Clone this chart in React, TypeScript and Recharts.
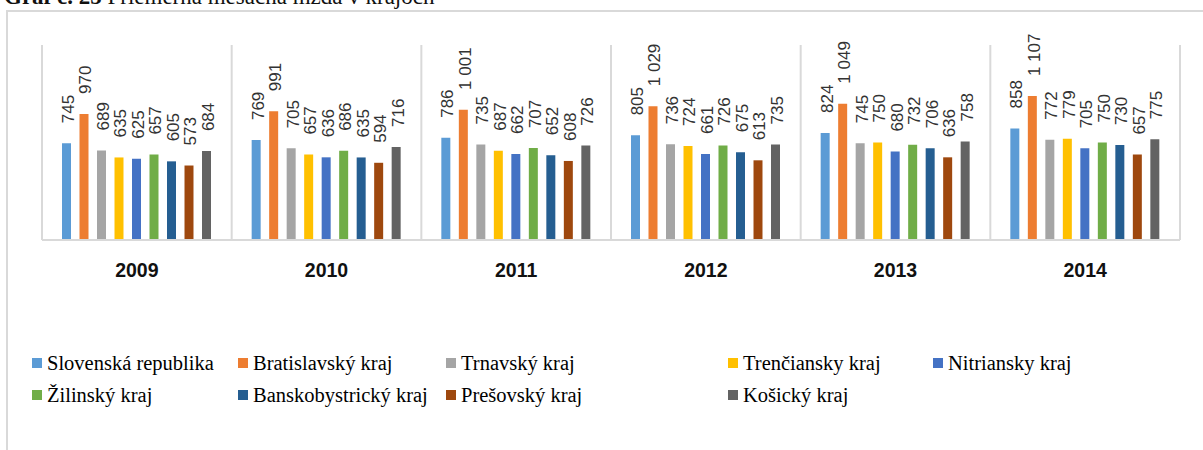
import React from "react";
import { BarChart, Bar, XAxis, YAxis, CartesianGrid, Legend, LabelList } from "recharts";

const YEARS = ["2009", "2010", "2011", "2012", "2013", "2014"];
const REGIONS = [
  "Slovenská republika",
  "Bratislavský kraj",
  "Trnavský kraj",
  "Trenčiansky kraj",
  "Nitriansky kraj",
  "Žilinský kraj",
  "Banskobystrický kraj",
  "Prešovský kraj",
  "Košický kraj",
];
const COLORS = ["#5b9bd5", "#ed7d31", "#a5a5a5", "#ffc000", "#4472c4", "#70ad47", "#255e91", "#9e480e", "#636363"];

// average monthly wage, EUR
const SR = [745, 769, 786, 805, 824, 858];
const BA = [970, 991, 1001, 1029, 1049, 1107];
const TT = [689, 705, 735, 736, 745, 772];
const TN = [635, 657, 687, 724, 750, 779];
const NR = [625, 636, 662, 661, 680, 705];
const ZA = [657, 686, 707, 726, 732, 750];
const BB = [605, 635, 652, 675, 706, 730];
const PO = [573, 594, 608, 613, 636, 657];
const KE = [684, 716, 726, 735, 758, 775];

const SERIES = [SR, BA, TT, TN, NR, ZA, BB, PO, KE];

const data = YEARS.map((year, i) => {
  const row: Record<string, string | number> = { year };
  SERIES.forEach((s, k) => {
    row["s" + k] = s[i];
  });
  return row;
});

// legend columns (px from left) - 5 per row like the original
const LEGEND_COLS = [32, 238, 446, 728, 933];

function fmt(v: number) {
  if (v >= 1000) return `${Math.floor(v / 1000)} ${String(v % 1000).padStart(3, "0")}`;
  return String(v);
}

const RotatedLabel = (props: any) => {
  const { x, y, width, value } = props;
  const cx = Number(x) + Number(width) / 2 + 2;
  const ty = Number(y) - 20;
  return (
    <text
      x={cx}
      y={ty}
      transform={`rotate(-90, ${cx}, ${ty})`}
      textAnchor="start"
      dominantBaseline="central"
      fontSize={17}
      fontFamily="'Liberation Sans', Arial, sans-serif"
      fill="#333"
    >
      {fmt(Number(value))}
    </text>
  );
};

const renderLegend = (props: any) => {
  // keep the series order, recharts sorts the payload by name
  const payload = [...(props.payload || [])].sort(
    (a: any, b: any) => REGIONS.indexOf(a.value) - REGIONS.indexOf(b.value)
  );
  return (
    <div
      style={{
        position: "relative",
        height: 170,
        fontFamily: "'Liberation Serif', 'Times New Roman', serif",
        fontSize: 20.5,
        color: "#000",
      }}
    >
      {payload.map((p: any, i: number) => (
        <div
          key={i}
          style={{
            position: "absolute",
            left: LEGEND_COLS[i % 5],
            top: 71 + Math.floor(i / 5) * 32,
            height: 24,
            display: "flex",
            alignItems: "center",
            whiteSpace: "nowrap",
          }}
        >
          <span style={{ width: 10, height: 10, background: p.color, marginRight: 5, display: "inline-block" }} />
          {p.value}
        </div>
      ))}
    </div>
  );
};

export default function App() {
  return (
    <div
      style={{
        position: "fixed",
        left: 0,
        top: 0,
        width: 1203,
        height: 450,
        overflow: "hidden",
        background: "#fff",
      }}
    >
      <div
        style={{
          position: "absolute",
          left: 6,
          top: 10,
          width: 1400,
          height: 600,
          border: "2px solid #d9d9d9",
        }}
      />
      <div
        style={{
          position: "absolute",
          left: 4,
          top: -15,
          fontFamily: "'Liberation Serif', 'Times New Roman', serif",
          fontSize: 23,
          lineHeight: "23px",
          whiteSpace: "nowrap",
          color: "#111",
        }}
      >
        <b>Graf č. 25</b> Priemerná mesačná mzda v krajoch
      </div>
      <div style={{ position: "absolute", left: 0, top: 0 }}>
        <BarChart
          width={1203}
          height={450}
          data={data}
          margin={{ top: 45, right: 23, left: 42, bottom: 0 }}
          barSize={9}
          barGap={8.5}
        >
          <CartesianGrid
            horizontal={false}
            stroke="#d9d9d9"
            strokeWidth={2}
            verticalCoordinatesGenerator={({ offset }: any) =>
              [0, 1, 2, 3, 4, 5, 6].map((i) => offset.left + (i * offset.width) / 6)
            }
          />
          <XAxis
            dataKey="year"
            height={40}
            tickLine={false}
            tickMargin={17}
            axisLine={{ stroke: "#d9d9d9", strokeWidth: 2 }}
            tick={{ fontSize: 19.5, fontWeight: 700, fill: "#111", fontFamily: "'Liberation Sans', Arial, sans-serif" }}
          />
          <YAxis hide domain={[0, 1500]} />
          <Legend verticalAlign="bottom" content={renderLegend} wrapperStyle={{ left: 0, width: 1203 }} />
          {REGIONS.map((name, k) => (
            <Bar key={name} dataKey={"s" + k} name={name} fill={COLORS[k]} isAnimationActive={false}>
              <LabelList dataKey={"s" + k} content={RotatedLabel} />
            </Bar>
          ))}
        </BarChart>
      </div>
    </div>
  );
}
